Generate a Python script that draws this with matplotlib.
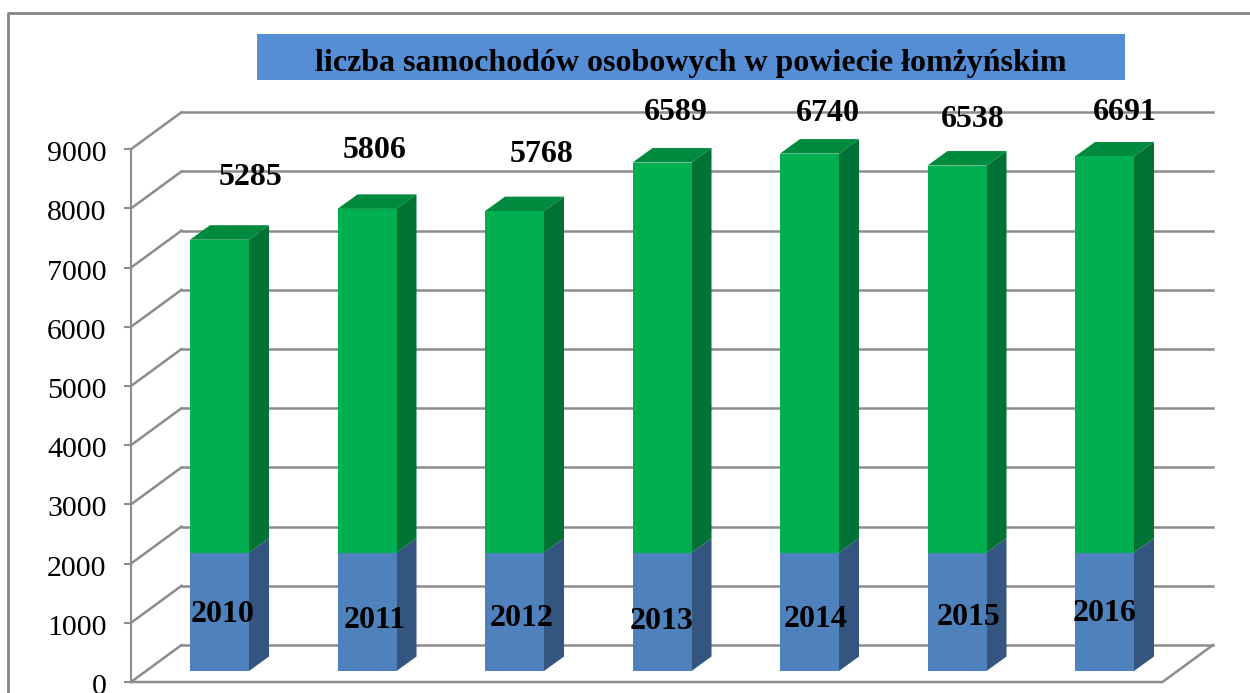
import numpy as np
import matplotlib
matplotlib.use('Agg')
import matplotlib.pyplot as plt
from matplotlib.lines import Line2D
from matplotlib.patches import Polygon, Rectangle
from matplotlib.transforms import ScaledTranslation

years = ['2010', '2011', '2012', '2013', '2014', '2015', '2016']
base_values = [2000, 2000, 2000, 2000, 2000, 2000, 2000]
car_values = [5285, 5806, 5768, 6589, 6740, 6538, 6691]
yticks = [0, 1000, 2000, 3000, 4000, 5000, 6000, 7000, 8000, 9000]
title = 'liczba samochodów osobowych w powiecie łomżyńskim'

# hand placed labels in the original, pixel offsets from the bar
value_dx = [31, 8, 27, 14, 18, 16, 20]
value_dy = [62, 58, 57, 50, 40, 46, 44]
year_dx = [3, 8, 7, 0, 6, 12, 0]
year_py = [622, 628, 626, 629, 627, 625, 621]

W, H = 1250, 693
PX_X = 147.5      # pixels per category
PX_Y = 0.0592     # pixels per unit of value
GRID = '#8c8c8c'
SERIF = 'Liberation Serif'

def fx(px):
	return px / W

def fy(py):
	return 1 - py / H

fig = plt.figure(figsize=(W / 100, H / 100), dpi=100)
ax = fig.add_axes([fx(131), fy(682), fx(W - 131), 1 - fy(682)])
ax.set_xlim((131 - 219.5) / PX_X, (W - 219.5) / PX_X)
ax.set_ylim(0, 682 / PX_Y)

x = np.arange(len(years))
base = np.array(base_values)
cars = np.array(car_values)
lift = 11 / PX_Y
bar_w = 59 / PX_X
dep_x = 20 / PX_X
dep_y = 14.5 / PX_Y
wall_x = 50.5 / PX_X
wall_y = 37 / PX_Y
x0 = ax.get_xlim()[0]
x_end = (1162.5 - 219.5) / PX_X

# walls and floor
for v in yticks:
	ax.plot([x0, x0 + wall_x], [v, v + wall_y], color=GRID, lw=1.8, zorder=1, clip_on=False)
	ax.plot([x0 + wall_x, x_end + wall_x], [v + wall_y, v + wall_y], color=GRID, lw=1.8, zorder=1, clip_on=False)
ax.plot([x0, x_end, x_end + wall_x], [0, 0, wall_y], color=GRID, lw=1.8, zorder=1, clip_on=False)

# front faces
ax.bar(x, base, width=bar_w, bottom=lift, color='#4f81bd', zorder=3)
ax.bar(x, cars, width=bar_w, bottom=lift + base, color='#00b050', zorder=3)

# sides and tops
for i in x:
	r = i + bar_w / 2
	l = i - bar_w / 2
	y1 = lift + base[i]
	y2 = y1 + cars[i]
	ax.add_patch(Polygon([(r, lift), (r + dep_x, lift + dep_y), (r + dep_x, y1 + dep_y), (r, y1)], color='#335580', lw=0, zorder=2))
	ax.add_patch(Polygon([(r, y1), (r + dep_x, y1 + dep_y), (r + dep_x, y2 + dep_y), (r, y2)], color='#007233', lw=0, zorder=2))
	ax.add_patch(Polygon([(l, y2), (l + dep_x, y2 + dep_y), (r + dep_x, y2 + dep_y), (r, y2)], color='#008a3e', lw=0, zorder=2))
	ax.annotate(str(cars[i]), (i, y2), xytext=(value_dx[i], value_dy[i]), textcoords='offset pixels',
		ha='center', va='center', family=SERIF, fontweight='bold', fontsize=23, color='black', zorder=5)
	ax.text(i + year_dx[i] / PX_X, (682 - year_py[i]) / PX_Y, years[i], ha='center', va='baseline',
		family=SERIF, fontweight='bold', fontsize=23, color='black', zorder=5)

# y axis
for s in ['top', 'right', 'bottom']:
	ax.spines[s].set_visible(False)
ax.spines['left'].set_color(GRID)
ax.spines['left'].set_linewidth(1.5)
ax.spines['left'].set_bounds(0, 9000)
ax.set_xticks([])
ax.set_yticks(yticks)
ax.tick_params(axis='y', length=5, width=1.5, color=GRID, pad=12.5, labelsize=21.5)
shift = ScaledTranslation(0, -2 / 100, fig.dpi_scale_trans)
for t in ax.get_yticklabels():
	t.set_family(SERIF)
	t.set_transform(t.get_transform() + shift)
ax.patch.set_alpha(0)

# outer frame and title box
fig.add_artist(Line2D([fx(8), fx(8), fx(W)], [fy(H), fy(13), fy(13)], color='#868686', lw=2))
fig.add_artist(Rectangle((fx(257), fy(80)), fx(868), 46 / H, transform=fig.transFigure, color='#558ed5', lw=0))
fig.text(fx(691), fy(64), title, ha='center', va='center', family=SERIF, fontweight='bold', fontsize=23, color='black')

fig.savefig('out.png', dpi=100)
